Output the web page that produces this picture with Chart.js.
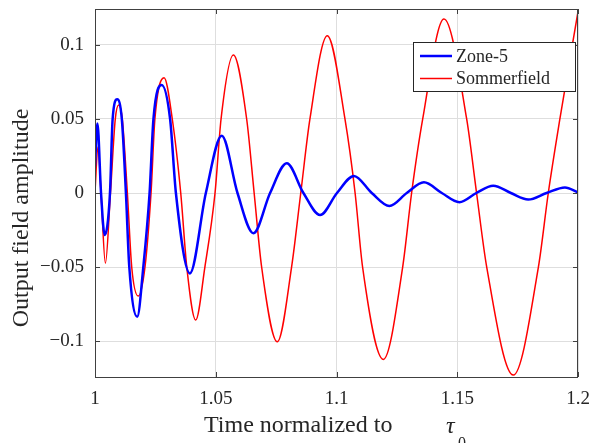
<!DOCTYPE html>
<html>
<head>
<meta charset="utf-8">
<script src="https://cdn.jsdelivr.net/npm/chart.js@4/dist/chart.umd.min.js"></script>
<style>
  body { margin: 0; background: #fff; }
  canvas { display: block; }
</style>
</head>
<body>
<canvas id="fieldChart" width="598" height="443"></canvas>
<script>
// Zone-5 curve (peaks, zero crossings, +-0.05 crossings)
const zoneX = [1.0000, 1.0010, 1.0025, 1.0040, 1.0062, 1.0073, 1.0092, 1.0111, 1.0128, 1.0142,
               1.0175, 1.0200, 1.0226, 1.0242, 1.0276, 1.0311, 1.0335, 1.0393,
               1.0459, 1.0525, 1.0590, 1.0656, 1.0725, 1.0794, 1.0863, 1.0932, 1.1002, 1.1072,
               1.1146, 1.1219, 1.1291, 1.1362, 1.1436, 1.1509, 1.1579, 1.1649, 1.1722, 1.1794,
               1.1870, 1.1946, 1.2000];
const zoneY = [0.018, 0.047, 0, -0.0284, 0, 0.05, 0.0633, 0.05, 0, -0.05,
               -0.0836, -0.05, 0, 0.05, 0.073, 0.05, 0, -0.0543,
               0, 0.0387, 0, -0.0272, 0, 0.0201, 0, -0.0149, 0, 0.0115,
               0, -0.0088, 0, 0.0072, 0, -0.0062, 0, 0.0049, 0, -0.0044,
               0, 0.0037, 0.0005];

// Sommerfield curve
const sommX = [1.0000, 1.0012, 1.0025, 1.0043, 1.0064, 1.0084, 1.0098, 1.0113, 1.0134, 1.0152,
               1.0179, 1.0207, 1.0232, 1.0248, 1.0286, 1.0320, 1.0355, 1.0380, 1.0417, 1.0455,
               1.0497, 1.0522, 1.0573, 1.0628, 1.0659, 1.0690, 1.0755, 1.0814, 1.0852, 1.0890,
               1.0962, 1.1035, 1.1077, 1.1108, 1.1194, 1.1274, 1.1311, 1.1357, 1.1445, 1.1539,
               1.1580, 1.1622, 1.1732, 1.1836, 1.1877, 1.1925, 1.2000];
const sommY = [0.001, 0.031, 0, -0.0475, 0, 0.05, 0.0595, 0.05, 0, -0.05,
               -0.0696, -0.05, 0, 0.05, 0.0779, 0.05, 0, -0.05, -0.0858, -0.05,
               0, 0.05, 0.0932, 0.05, 0, -0.05, -0.1005, -0.05, 0, 0.05,
               0.1063, 0.05, 0, -0.05, -0.1124, -0.05, 0, 0.05, 0.1176, 0.05,
               0, -0.05, -0.123, -0.05, 0, 0.05, 0.1225];

const xTicks = [1, 1.05, 1.1, 1.15, 1.2];
const xTickLabels = ['1', '1.05', '1.1', '1.15', '1.2'];
const yTicks = [-0.1, -0.05, 0, 0.05, 0.1];
const yTickLabels = ['\u22120.1', '\u22120.05', '0', '0.05', '0.1'];

const seriesNames = ['Zone-5', 'Sommerfield'];
const xTitle = 'Time normalized to';
const yTitle = 'Output field amplitude';

const serif = '"Liberation Serif", "Times New Roman", serif';
const axisColor = '#404040';
const textColor = '#262626';

// box, inward ticks, legend and axis titles, drawn MATLAB style
const matlabFrame = {
    id: 'matlabFrame',
    afterDraw(chart) {
        const { ctx, chartArea: a, scales } = chart;
        ctx.save();

        // axes box
        ctx.strokeStyle = axisColor;
        ctx.lineWidth = 1;
        ctx.strokeRect(a.left + 0.5, a.top + 0.5, a.right - a.left - 1, a.bottom - a.top);

        // inward ticks on all four sides
        const len = 5;
        ctx.beginPath();
        xTicks.forEach(v => {
            const px = Math.round(scales.x.getPixelForValue(v)) + 0.5;
            ctx.moveTo(px, a.bottom); ctx.lineTo(px, a.bottom - len);
            ctx.moveTo(px, a.top); ctx.lineTo(px, a.top + len);
        });
        yTicks.forEach(v => {
            const py = Math.round(scales.y.getPixelForValue(v)) + 0.5;
            ctx.moveTo(a.left, py); ctx.lineTo(a.left + len, py);
            ctx.moveTo(a.right, py); ctx.lineTo(a.right - len, py);
        });
        ctx.stroke();

        // legend
        const lx = 413.5, ly = 42.5, lw = 162, lh = 49;
        ctx.fillStyle = '#fff';
        ctx.fillRect(lx, ly, lw, lh);
        ctx.strokeStyle = textColor;
        ctx.strokeRect(lx, ly, lw, lh);
        ctx.font = '18px ' + serif;
        ctx.textBaseline = 'middle';
        ctx.textAlign = 'left';
        chart.data.datasets.forEach((ds, i) => {
            const ry = 56 + i * 22.5;
            ctx.strokeStyle = ds.borderColor;
            ctx.lineWidth = ds.borderWidth;
            ctx.beginPath();
            ctx.moveTo(420, ry); ctx.lineTo(452, ry);
            ctx.stroke();
            ctx.fillStyle = textColor;
            ctx.fillText(ds.label, 456, ry + 1);
        });

        // axis titles
        ctx.fillStyle = textColor;
        ctx.textBaseline = 'alphabetic';
        ctx.font = '24px ' + serif;
        ctx.fillText(xTitle, 204, 432);
        ctx.font = 'italic 24px ' + serif;
        ctx.fillText('\u03c4', 446, 433);
        ctx.font = '16px ' + serif;
        ctx.fillText('0', 458, 448);

        ctx.save();
        ctx.translate(22, 218);
        ctx.rotate(-Math.PI / 2);
        ctx.textAlign = 'center';
        ctx.textBaseline = 'middle';
        ctx.font = '24px ' + serif;
        ctx.fillText(yTitle, 0, 0);
        ctx.restore();

        ctx.restore();
    }
};

function toPoints(xs, ys) {
    return xs.map((x, i) => ({ x: x, y: ys[i] }));
}

const ctx = document.getElementById('fieldChart').getContext('2d');
const fieldChart = new Chart(ctx, {
    type: 'line',
    data: {
        datasets: [
            {
                label: seriesNames[0],
                data: toPoints(zoneX, zoneY),
                borderColor: '#0000ff',
                borderWidth: 2.5,
                pointRadius: 0,
                fill: false,
                cubicInterpolationMode: 'monotone'
            },
            {
                label: seriesNames[1],
                data: toPoints(sommX, sommY),
                borderColor: '#ff0000',
                borderWidth: 1.5,
                pointRadius: 0,
                fill: false,
                cubicInterpolationMode: 'monotone'
            }
        ]
    },
    options: {
        responsive: false,
        animation: false,
        devicePixelRatio: 1,
        layout: { padding: { top: 9, right: 20, left: 0, bottom: 0 } },
        plugins: {
            legend: { display: false },
            tooltip: { enabled: false }
        },
        scales: {
            x: {
                type: 'linear',
                min: 1,
                max: 1.2,
                afterBuildTicks: s => { s.ticks = xTicks.map(v => ({ value: v })); },
                afterFit: s => { s.height = 66; s.paddingLeft = 0; s.paddingRight = 0; },
                ticks: {
                    callback: (v, i) => xTickLabels[i],
                    font: { family: serif, size: 19 },
                    color: textColor,
                    padding: 11,
                    maxRotation: 0,
                    autoSkip: false
                },
                grid: { color: '#dedede', drawTicks: false },
                border: { display: false }
            },
            y: {
                type: 'linear',
                min: -0.1243,
                max: 0.1243,
                afterBuildTicks: s => { s.ticks = yTicks.map(v => ({ value: v })); },
                afterFit: s => { s.width = 95; s.paddingTop = 0; s.paddingBottom = 0; },
                ticks: {
                    callback: (v, i) => yTickLabels[i],
                    font: { family: serif, size: 19 },
                    color: textColor,
                    padding: 11,
                    autoSkip: false
                },
                grid: { color: '#dedede', drawTicks: false },
                border: { display: false }
            }
        }
    },
    plugins: [matlabFrame]
});
</script>
</body>
</html>
